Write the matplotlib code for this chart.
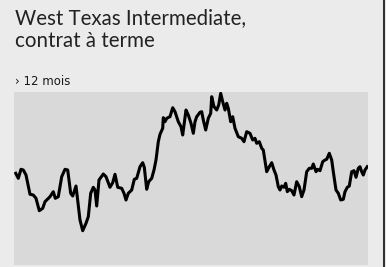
import matplotlib
matplotlib.use("Agg")
import matplotlib.pyplot as plt
from matplotlib.lines import Line2D

titre_l1 = "West Texas Intermediate,"
titre_l2 = "contrat à terme"
sous_titre = "› 12 mois"

jours = [1.7, 4.3, 7, 9.3, 12, 16, 19.3, 22, 25.3, 28.7, 31, 36, 39.3, 41.3, 44.3,
         47.7, 51, 53.7, 56.7, 58.7, 62, 66, 68.7, 72, 74.3, 76.7, 79.3, 81, 82.7, 85,
         89.3, 92, 96, 98.7, 101, 103.7, 107.7, 110, 112, 114.3, 117.7, 120.3, 122.7, 126, 128.7,
         130.3, 132.7, 134.7, 137.7, 140, 142, 144.3, 146, 148.7, 149.3, 151, 152.7, 156, 158.7,
         161, 164.3, 167, 168.7, 172, 174.3, 177, 179.3, 181, 182.7, 186, 187.7, 189.3, 191.7,
         194.3, 196.7, 197.7, 200, 202.7, 204.7, 206.7, 208.7, 211, 212.7, 214.3, 216.7, 218.7,
         221, 224.3, 227.7, 230, 232.7, 236, 238.7, 241, 242.7, 245.3, 247.7, 249.3, 252.7,
         255.3, 257.7, 260, 262, 264.3, 266, 267.7, 270, 271.7, 273.3, 275.3, 277.7, 280, 282.7,
         285.3, 287.7, 290, 292.7, 295.3, 297.7, 299.3, 302, 303.7, 306, 308.7, 311, 312.7,
         315.3, 317.7, 319.3, 322, 324.3, 326.7, 329.3, 331, 333.3, 335.3, 337.7, 340, 342,
         344.3, 346, 347.7, 349.3, 351, 353.3]
valeurs = [91.7, 86.7, 95.7, 95, 90, 70.7, 70, 66.7, 54.3, 56.7, 63.3, 68.3, 73.3, 66.7, 68.3,
           88.3, 95.7, 95, 71.7, 69, 79, 45, 34.3, 41.7, 48.3, 71.7, 77.7, 75, 59, 85,
           91, 88.3, 77.7, 82.3, 90.7, 77.7, 76.7, 71.7, 65, 71.7, 75, 85.7, 86.7, 98.3, 102.3,
           97.7, 75.7, 83.3, 86.7, 95, 105, 123.3, 130.7, 136.7, 147.3, 143.3, 146.7, 148.3, 157.3,
           153.3, 143.3, 138.3, 130, 155, 150, 141.7, 131.7, 143.3, 148.3, 152.7, 153.3, 145, 135,
           146.7, 151.7, 168.3, 158.3, 155, 160, 171.7, 163.3, 155, 161.7, 156.7, 143.3, 148.3,
           136.7, 128.3, 126.7, 123.3, 133.3, 131.7, 125, 126.7, 121.7, 123.3, 116.7, 115, 93.3,
           98.3, 102.3, 95, 90, 78.3, 75, 79, 77.7, 81.7, 73.3, 75.7, 74.3, 70, 83.3,
           78.3, 68.3, 75, 93.3, 96.7, 96.7, 101, 93.3, 95.7, 94.3, 103.3, 105, 105.7,
           111.7, 105, 93.3, 75, 71.7, 65, 65.7, 73.3, 77.7, 79, 93.3, 94.3, 87.7, 96.7,
           98.3, 93.3, 90, 95, 98.3]

W, H = 386, 267
fig = plt.figure(figsize=(W / 100, H / 100), dpi=100)
fig.patch.set_facecolor("#ebebeb")

ax = fig.add_axes([14 / W, 2 / H, 354 / W, 173 / H])
ax.set_facecolor("#d9d9d9")
ax.plot(jours, valeurs, color="black", lw=2.2, solid_joinstyle="round")
ax.set_xlim(0, 354)
ax.set_ylim(0, 173)
ax.set_xticks([])
ax.set_yticks([])
for s in ax.spines.values():
    s.set_visible(False)

fig.text(15 / W, 1 - 24 / H, titre_l1, ha="left", va="baseline", fontsize=14.8,
         family="Lato", color="#222222")
fig.text(15 / W, 1 - 47 / H, titre_l2, ha="left", va="baseline", fontsize=14.8,
         family="Lato", color="#222222")
fig.text(15 / W, 1 - 85 / H, sous_titre, ha="left", va="baseline", fontsize=8.5,
         family=["Liberation Sans Narrow", "DejaVu Sans"], color="#1a1a1a")

fig.add_artist(Line2D([383.5 / W, 383.5 / W], [0, 1], transform=fig.transFigure,
                      color="#333333", lw=1.5))

fig.savefig("out.png", dpi=100, facecolor=fig.get_facecolor())
